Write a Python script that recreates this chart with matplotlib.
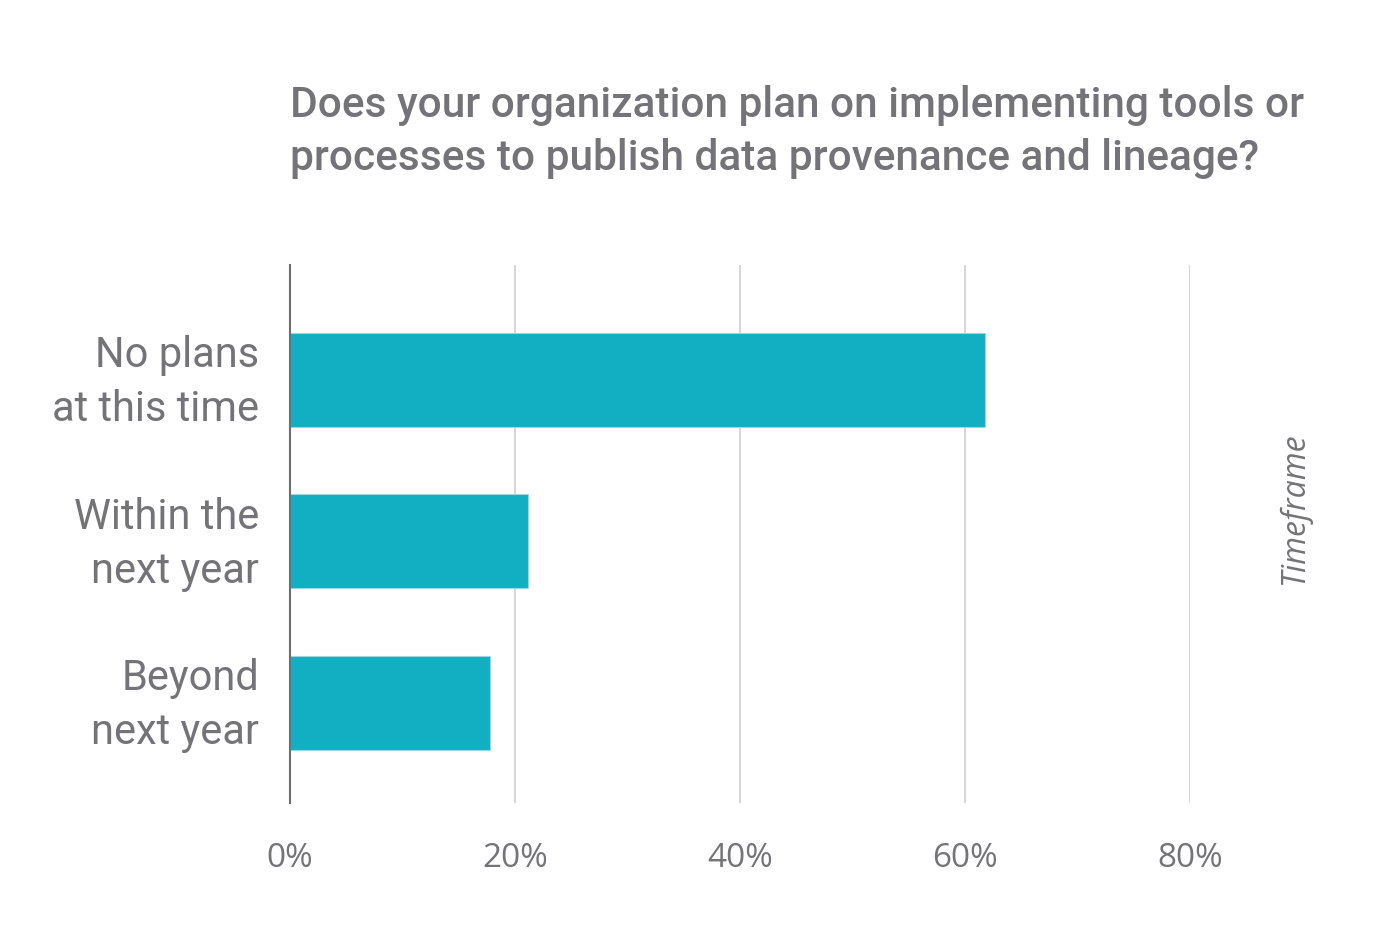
import matplotlib
matplotlib.use("Agg")
import matplotlib.pyplot as plt
from matplotlib.transforms import ScaledTranslation

# data
categories = ["No plans\nat this time", "Within the\nnext year", "Beyond\nnext year"]
shares = [61.8, 21.2, 17.8]
ticks = [0, 20, 40, 60, 80]
tick_labels = ["0%", "20%", "40%", "60%", "80%"]

plt.rcParams["font.family"] = ["Roboto", "DejaVu Sans"]

grey = "#747478"
bar_color = "#12AEC2"

fig = plt.figure(figsize=(14, 9.5), dpi=100)
ax = fig.add_axes([0.2071, 0.1547, 0.6429, 0.5664])

pos = list(range(len(categories)))
ax.barh(pos, shares, height=0.58, color=bar_color, edgecolor="#9ad8e0",
        linewidth=0.8, zorder=3)

ax.set_xlim(0, 80)
ax.set_ylim(2.62, -0.71)
ax.set_xticks(ticks)
ax.set_xticklabels(tick_labels, fontsize=24, color=grey, fontfamily="Open Sans")
ax.set_yticks(pos)
ax.set_yticklabels(categories, fontsize=30, color=grey, linespacing=1.4)
ax.tick_params(axis="both", length=0)
ax.tick_params(axis="x", pad=28)
ax.tick_params(axis="y", pad=22)

# nudge category labels up a little (font metrics differ from the original)
shift = ScaledTranslation(0, 8 / 100, fig.dpi_scale_trans)
for lbl in ax.get_yticklabels():
    lbl.set_transform(lbl.get_transform() + shift)

ax.grid(axis="x", color="#cfcfcf", linewidth=1.2, zorder=0)
for s in ["top", "right", "bottom"]:
    ax.spines[s].set_visible(False)
ax.spines["left"].set_color("#6e6e6e")
ax.spines["left"].set_linewidth(1.5)
ax.spines["left"].set_zorder(4)

fig.text(0.2071, 0.861, "Does your organization plan on implementing tools or\n"
         "processes to publish data provenance and lineage?",
         fontsize=30.5, color=grey, ha="left", va="center", linespacing=1.4,
         fontweight="medium")

fig.text(0.925, 0.465, "Timeframe", rotation=90, fontsize=23, color=grey,
         style="italic", ha="center", va="center", fontfamily="Open Sans")

fig.savefig("out.png", dpi=100, facecolor="white")
